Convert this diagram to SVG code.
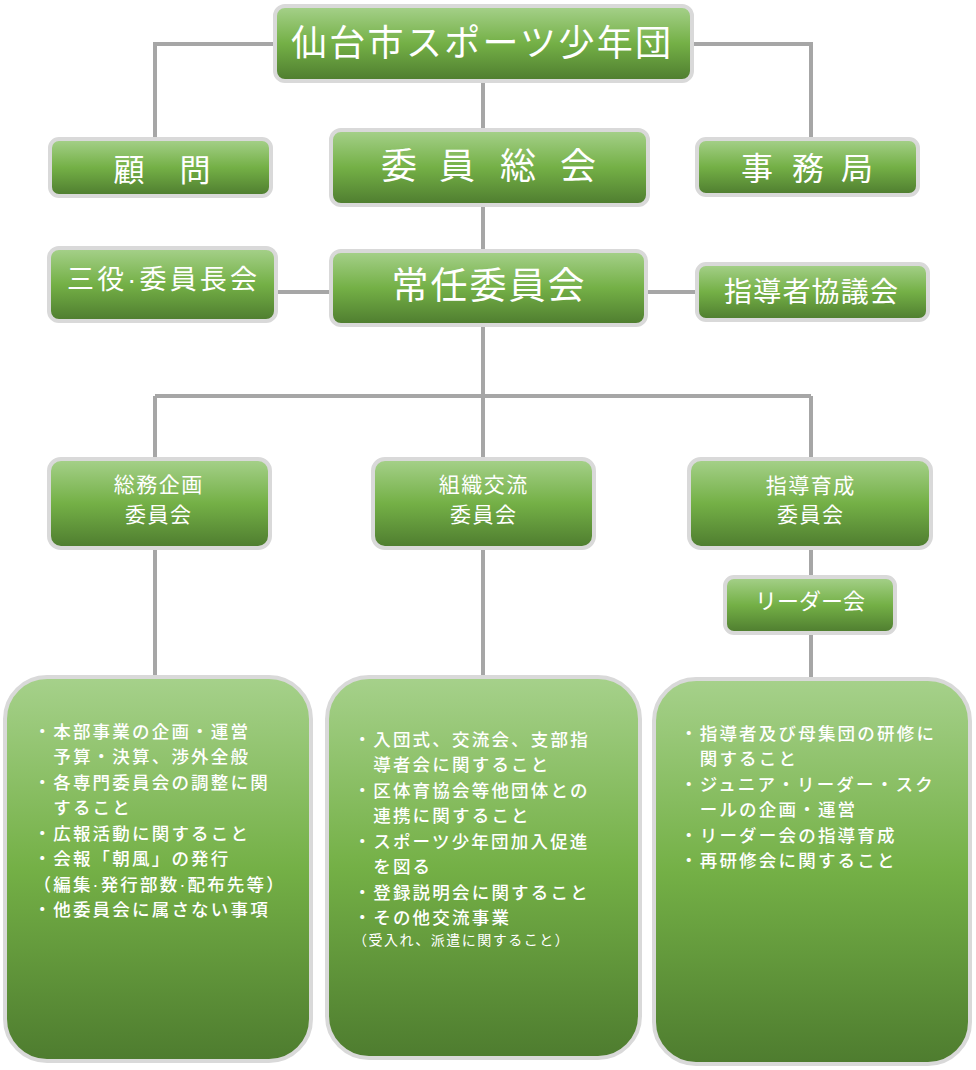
<svg xmlns="http://www.w3.org/2000/svg" width="976" height="1070" viewBox="0 0 976 1070">
<defs>
<linearGradient id="g" x1="0" y1="0" x2="0" y2="1">
<stop offset="0" stop-color="#a6d18b"/>
<stop offset="0.5" stop-color="#74b046"/>
<stop offset="1" stop-color="#4e7c2f"/>
</linearGradient>
<style>
.box{fill:url(#g);stroke:#d9d9d9;stroke-width:4}
.t{fill:#ffffff;font-family:"Liberation Sans","Noto Sans CJK JP",sans-serif;font-weight:400}
.m{text-anchor:middle}
.body{font-size:17.5px;letter-spacing:2.2px;font-weight:500}
.conn{fill:none;stroke:#a6a6a6;stroke-width:4}
</style>
</defs>
<rect width="976" height="1070" fill="#ffffff"/>
<g id="connectors">
<path class="conn" d="M275,44 H155 V139"/>
<path class="conn" d="M692,44 H811 V139"/>
<path class="conn" d="M483,81 V130"/>
<path class="conn" d="M483,205 V251"/>
<path class="conn" d="M276,292 H331"/>
<path class="conn" d="M646,292 H697"/>
<path class="conn" d="M483,325 V459"/>
<path class="conn" d="M155,396 H811"/>
<path class="conn" d="M155,396 V459"/>
<path class="conn" d="M811,396 V459"/>
<path class="conn" d="M155,548 V677"/>
<path class="conn" d="M483,548 V677"/>
<path class="conn" d="M811,548 V577"/>
<path class="conn" d="M811,633 V679"/>
</g>
<g id="n-top">
<rect class="box" x="275" y="6" width="417" height="75" rx="10"/>
<text class="t" x="291" y="55.7" font-size="36" letter-spacing="2.3">仙台市スポーツ少年団</text>
</g>
<g id="n-komon">
<rect class="box" x="50" y="139" width="221" height="57" rx="9"/>
<text class="t m" x="129 195" y="180.8" font-size="31" font-weight="500">顧問</text>
</g>
<g id="n-soukai">
<rect class="box" x="331" y="130" width="317" height="75" rx="10"/>
<text class="t m" x="399 457 518 578" y="178.7" font-size="36" font-weight="500">委員総会</text>
</g>
<g id="n-jimukyoku">
<rect class="box" x="697" y="139" width="221" height="56" rx="9"/>
<text class="t m" x="757 808 857" y="180.2" font-size="32" font-weight="500">事務局</text>
</g>
<g id="n-sanyaku">
<rect class="box" x="49" y="248" width="227" height="73" rx="10"/>
<text class="t" x="67" y="289.3" font-size="27" textLength="190" lengthAdjust="spacing">三役·委員長会</text>
</g>
<g id="n-jounin">
<rect class="box" x="331" y="251" width="315" height="74" rx="10"/>
<text class="t m" x="410 449 488 527 566" y="299" font-size="37">常任委員会</text>
</g>
<g id="n-shidousha">
<rect class="box" x="697" y="264" width="231" height="56" rx="9"/>
<text class="t" x="724" y="301.6" font-size="28" letter-spacing="1.2">指導者協議会</text>
</g>
<g id="n-soumu">
<rect class="box" x="49" y="459" width="221" height="89" rx="12"/>
<text class="t m" x="124.25 146.75 169.25 191.75" y="492" font-size="21">総務企画</text>
<text class="t m" x="135.5 158 180.5" y="522" font-size="21">委員会</text>
</g>
<g id="n-soshiki">
<rect class="box" x="373" y="459" width="221" height="89" rx="12"/>
<text class="t m" x="449.25 471.75 494.25 516.75" y="492" font-size="21">組織交流</text>
<text class="t m" x="460.5 483 505.5" y="522" font-size="21">委員会</text>
</g>
<g id="n-shidou">
<rect class="box" x="689" y="459" width="242" height="89" rx="12"/>
<text class="t m" x="776.25 798.75 821.25 843.75" y="493" font-size="21">指導育成</text>
<text class="t m" x="787.5 810 832.5" y="522" font-size="21">委員会</text>
</g>
<g id="n-leader">
<rect class="box" x="725" y="577" width="170" height="56" rx="9"/>
<text class="t m" x="766 788 810 832 854" y="609.4" font-size="22">リーダー会</text>
</g>
<g id="n-box1">
<rect class="box" x="5" y="677" width="306" height="384" rx="42"/>
<text class="t body" y="737.7">
<tspan x="33.5">・本部事業の企画・運営</tspan>
<tspan x="33.5" dy="25.5">　予算・決算、渉外全般</tspan>
<tspan x="33.5" dy="25.5">・各専門委員会の調整に関</tspan>
<tspan x="33.5" dy="25.5">　すること</tspan>
<tspan x="33.5" dy="25.5">・広報活動に関すること</tspan>
<tspan x="33.5" dy="25.5">・会報「朝風」の発行</tspan>
<tspan x="33.5" dy="25.5">（編集·発行部数·配布先等）</tspan>
<tspan x="33.5" dy="25.5">・他委員会に属さない事項</tspan>
</text>
</g>
<g id="n-box2">
<rect class="box" x="327" y="677" width="313" height="381" rx="42"/>
<text class="t body" y="745.7">
<tspan x="353.5">・入団式、交流会、支部指</tspan>
<tspan x="353.5" dy="25.5">　導者会に関すること</tspan>
<tspan x="353.5" dy="25.5">・区体育協会等他団体との</tspan>
<tspan x="353.5" dy="25.5">　連携に関すること</tspan>
<tspan x="353.5" dy="25.5">・スポーツ少年団加入促進</tspan>
<tspan x="353.5" dy="25.5">　を図る</tspan>
<tspan x="353.5" dy="25.5">・登録説明会に関すること</tspan>
<tspan x="353.5" dy="25.5">・その他交流事業</tspan>
</text>
<text class="t" x="353" y="945.3" font-size="14" letter-spacing="1.5" font-weight="500">（受入れ、派遣に関すること）</text>
</g>
<g id="n-box3">
<rect class="box" x="654" y="679" width="316" height="385" rx="42"/>
<text class="t body" y="739.7">
<tspan x="680">・指導者及び母集団の研修に</tspan>
<tspan x="680" dy="25.5">　関すること</tspan>
<tspan x="680" dy="25.5">・ジュニア・リーダー・スク</tspan>
<tspan x="680" dy="25.5">　ールの企画・運営</tspan>
<tspan x="680" dy="25.5">・リーダー会の指導育成</tspan>
<tspan x="680" dy="25.5">・再研修会に関すること</tspan>
</text>
</g>
</svg>
